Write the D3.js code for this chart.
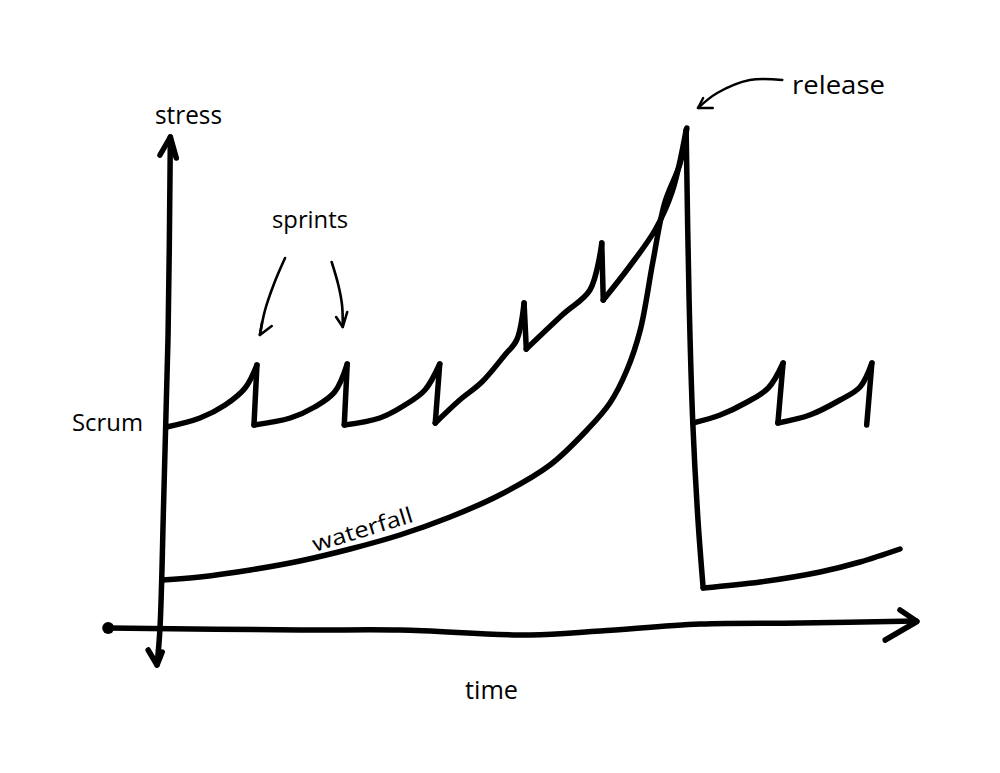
<!DOCTYPE html>
<html>
<head>
<meta charset="utf-8">
<script src="https://cdn.jsdelivr.net/npm/d3@7"></script>
<style>
  html, body { margin: 0; padding: 0; background: #fff; }
  svg { display: block; }
  .lbl { font-family: "Open Sans", "DejaVu Sans", sans-serif; font-weight: 400; fill: #000; }
</style>
</head>
<body>
<svg id="chart" width="1000" height="773"></svg>
<script>
// ---- data (time, stress) ----
const scrumSprints = [
  [[0.9,40.6],[5.4,42.4],[8.8,45],[11.5,48.4],[13.1,53]],
  [[12.7,41],[17.6,42.4],[20.9,44.6],[23.6,47.6],[25.3,53.2]],
  [[24.9,41],[29.7,42.4],[33.1,45],[35.8,48],[37.8,53.2]],
  [[37.2,41.4],[40.5,46],[43.5,49.6],[46.6,55],[48.2,58],[49.2,65.4]],
  [[49.5,56.2],[54.5,63.2],[58.1,68],[59.7,77.4]],
  [[59.9,66],[63.5,72.8],[66.9,80],[69.2,87.6],[71.1,100]],
  [[72,41.4],[75.7,43],[79.1,45.4],[82.2,48.4],[84.2,53.4]],
  [[83.5,41.4],[87.8,43],[91.9,46],[94.6,48.6],[96.2,53.4]]
];
const scrumEnd = [95.5, 41];
const releaseDrop = [[71.1,100],[71.5,66],[72,41.4],[72.7,22],[73.4,8.4]];
const waterfallBefore = [[0.3,10],[5.4,10.6],[12.2,12],[18.9,13.8],[25.7,16.2],[32.4,19],[39.2,22.6],[45.9,27],[52.7,33],[57.7,40],[60.8,45.4],[63.1,52],[64.9,60],[66.6,73.6],[68.2,85.4],[70.3,93.4],[71.2,100.4]];
const waterfallAfter = [[73.4,8.4],[81.1,9.6],[89.2,11.6],[94.6,13.6],[100,16.2]];
const xAxisLine = [[-7,0.4],[18.9,0],[32.4,0],[50,-1],[59.5,-0.2],[73,1.2],[86.5,1.4],[102.2,1.8]];
const xAxisHead = [[100,4],[102.3,1.7],[98,-2]];
const yAxisLine = [[1.4,98.6],[1.1,60],[0.5,26],[0,0.4],[-0.4,-7]];
const yAxisHeadTop = [[0,95],[1.4,98.6],[2.2,94.4]];
const yAxisHeadBottom = [[-1.6,-4],[-0.4,-7],[0.3,-4.4]];
const sprintArrowL = [[16.9,74.4],[15.5,69.6],[14.2,64],[13.5,59]];
const sprintArrowLHead = [[13.8,61.6],[13.5,59],[15.1,60.8]];
const sprintArrowR = [[23.2,73.6],[24.1,69],[24.6,65],[24.7,60.6]];
const sprintArrowRHead = [[23.8,62.6],[24.7,60.6],[25.3,63.6]];
const releaseArrow = [[84.1,110],[79.7,110],[75.3,107.4],[72.7,104.4]];
const releaseArrowHead = [[73.4,106.4],[72.7,104.4],[74.7,104.4]];
const labels = ["stress", "time", "Scrum", "waterfall", "sprints", "release"];

// ---- scales ----
const x = d3.scaleLinear().domain([0, 100]).range([160, 900]);
const y = d3.scaleLinear().domain([0, 100]).range([630, 130]);

const svg = d3.select("#chart");
const smooth = d3.line().x(d => x(d[0])).y(d => y(d[1])).curve(d3.curveCatmullRom.alpha(0.5));
const straight = d3.line().x(d => x(d[0])).y(d => y(d[1]));

function draw(gen, pts, w) {
  svg.append("path").attr("d", gen(pts))
    .attr("fill", "none").attr("stroke", "#000")
    .attr("stroke-width", w).attr("stroke-linecap", "round").attr("stroke-linejoin", "round");
}

const W = 5.5;
// axes
draw(smooth, xAxisLine, W);
draw(straight, xAxisHead, W);
svg.append("circle").attr("cx", x(-7)).attr("cy", y(0.4)).attr("r", 6).attr("fill", "#000");
draw(smooth, yAxisLine, W);
draw(straight, yAxisHeadTop, W);
draw(straight, yAxisHeadBottom, W);

// waterfall
draw(smooth, waterfallBefore, W);
draw(smooth, waterfallAfter, W);

// scrum sprints with drops
scrumSprints.forEach((s, i) => {
  draw(smooth, s, W);
  const peak = s[s.length - 1];
  if (i === 5) return; // release handled separately
  const next = i < scrumSprints.length - 1 ? scrumSprints[i + 1][0] : scrumEnd;
  draw(straight, [peak, next], W);
});
draw(smooth, releaseDrop, W);

// annotations
draw(smooth, sprintArrowL, 2.6);
draw(straight, sprintArrowLHead, 2.6);
draw(smooth, sprintArrowR, 2.6);
draw(straight, sprintArrowRHead, 2.6);
draw(smooth, releaseArrow, 2.4);
draw(straight, releaseArrowHead, 2.4);

// labels
function label(text, px, py, size, len, rot) {
  const t = svg.append("text").attr("class", "lbl")
    .attr("x", px).attr("y", py).attr("font-size", size)
    .attr("textLength", len).attr("lengthAdjust", "spacingAndGlyphs")
    .text(text);
  if (rot) t.attr("transform", `rotate(${rot},${px},${py})`);
}
label(labels[0], 155, 124, 25, 67);
label(labels[1], 465, 699, 25, 53);
label(labels[2], 72, 431, 23, 71);
label(labels[3], 315, 552, 22, 104, -17);
label(labels[4], 272, 228, 23, 76);
label(labels[5], 792, 94, 26, 93);
</script>
</body>
</html>
